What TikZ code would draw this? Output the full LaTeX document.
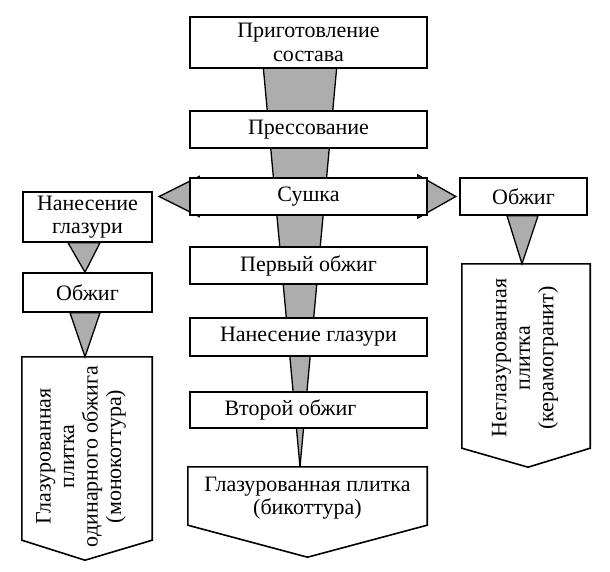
\documentclass[tikz,border=0pt]{standalone}
\usepackage{fontspec}
\setmainfont{Liberation Serif}
\usetikzlibrary{calc,backgrounds}

\tikzset{
	stepbox/.style={draw, line width=1.6pt, fill=white, minimum width=237pt, minimum height=37pt, inner sep=0pt, align=center, font=\fontsize{22}{23.5}\selectfont},
	sidebox/.style={stepbox, minimum width=129pt},
	endbox/.style={inner sep=0pt, minimum width=130pt},
	endtext/.style={inner sep=0pt, align=center, font=\fontsize{22}{23.5}\selectfont},
	outline/.style={draw, line width=1.6pt, line join=miter},
	funnel/.style={draw, line width=1.3pt, fill=black!32, line join=miter},
}

\begin{document}
\begin{tikzpicture}[x=1pt, y=-1pt]
		%%%%% START %%%%%
		\useasboundingbox (0, 0) rectangle (610, 572);
		
		% central line
		\node[stepbox, minimum height=51pt] (prep) at (308.5, 42.5) {Приготовление\\состава};
		\node[stepbox] (press) at (308.5, 129.5) {Прессование};
		\node[stepbox] (dry) at (308.5, 196.5) {Сушка};
		\node[stepbox] (fire1) at (308.5, 265.5) {Первый обжиг};
		\node[stepbox, minimum height=38pt] (glaze) at (308.5, 337) {Нанесение глазури};
		\node[stepbox, minimum height=36pt] (fire2) at (308.5, 410) {Второй обжиг\hspace*{36pt}};
		\node[endbox, minimum width=239pt, minimum height=58pt] (bico) at (307.5, 496) {};
		\coordinate (bicotip) at ($(bico.south)+(0, 32)$);
		\draw[outline] (bico.north west) -- (bico.north east) -- (bico.south east) -- (bicotip) -- (bico.south west) -- cycle;
		\node[endtext] (bicotext) at ($(bico.center)+(0, 2)$) {Глазурованная плитка\\(бикоттура)};
		
		% left line
		\node[sidebox, minimum height=50pt] (glz1) at (87.5, 217) {Нанесение\\глазури};
		\node[sidebox, minimum height=39pt] (fire3) at (87.5, 292.5) {Обжиг};
		\node[endbox, minimum height=183pt] (mono) at (87, 448.5) {};
		\coordinate (monotip) at ($(mono.south)+(-2, 20)$);
		\draw[outline] (mono.north west) -- (mono.north east) -- (mono.south east) -- (monotip) -- (mono.south west) -- cycle;
		\node[endtext, rotate=90] (monotext) at ($(mono.center)+(-6, 8)$) {Глазурованная\\плитка\\одинарного обжига\\(монокоттура)};
		
		% right line
		\node[sidebox, minimum width=127pt] (fire4) at (523.5, 196.5) {Обжиг};
		\node[endbox, minimum width=128pt, minimum height=184pt] (ceram) at (526, 356) {};
		\coordinate (ceramtip) at ($(ceram.south)+(2, 19)$);
		\draw[outline] (ceram.north west) -- (ceram.north east) -- (ceram.south east) -- (ceramtip) -- (ceram.south west) -- cycle;
		\node[endtext, rotate=90] (ceramtext) at ($(ceram.center)+(-1, 2)$) {Неглазурованная\\плитка\\(керамогранит)};
		
		\begin{scope}[on background layer]
			\draw[funnel] ($(prep.center)+(-47.5, 0)$) -- ($(prep.center)+(30.5, 0)$) -- ($(bico.north)+(-7.5, 0)$) -- cycle;
			\draw[funnel] ($(dry.west)+(10, -20)$) -- ($(dry.west)+(10, 20)$) -- ($(dry.west)+(-30, 0)$) -- cycle;
			\draw[funnel] ($(dry.east)+(-10, -21.5)$) -- ($(dry.east)+(-10, 21.5)$) -- ($(dry.east)+(28, 0)$) -- cycle;
			\draw[funnel] ($(glz1.south)+(-19.5, 0)$) -- ($(glz1.south)+(12.5, 0)$) -- ($(fire3.north)+(-2.5, 0)$) -- cycle;
			\draw[funnel] ($(fire3.south)+(-17.5, 0)$) -- ($(fire3.south)+(12.5, 0)$) -- ($(mono.north)+(-2, 0)$) -- cycle;
			\draw[funnel] ($(fire4.south)+(-16.5, 0)$) -- ($(fire4.south)+(14.5, 0)$) -- ($(ceram.north)+(-4, 0)$) -- cycle;
		\end{scope}
		%%%%% END %%%%%
\end{tikzpicture}
\end{document}
